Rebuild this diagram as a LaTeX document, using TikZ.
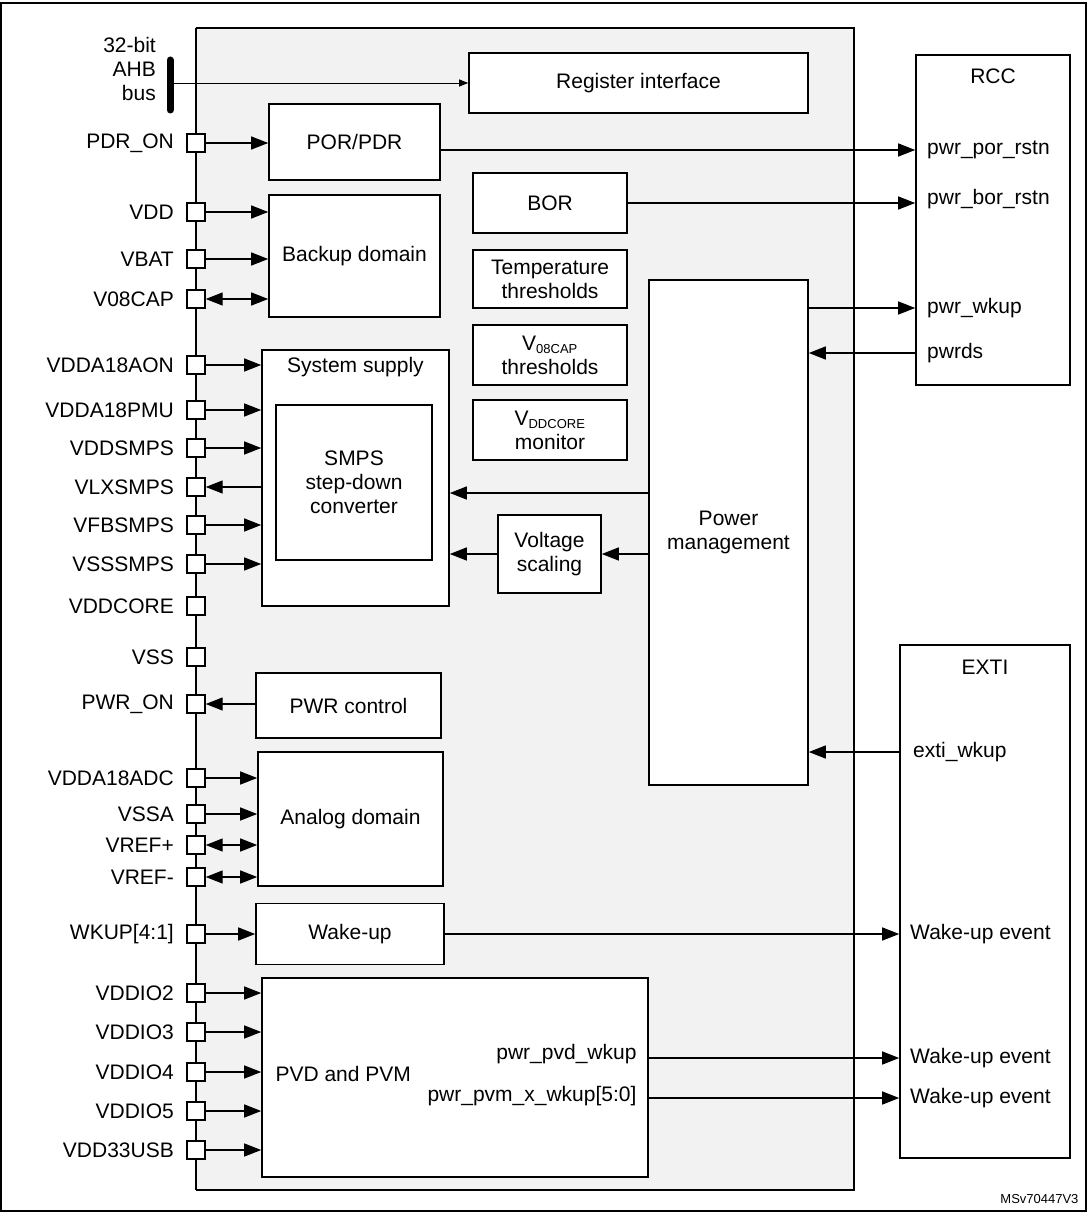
\documentclass[tikz,border=0pt]{standalone}
\usepackage{fontspec}
\setmainfont{Liberation Sans}
\usetikzlibrary{arrows.meta}
\begin{document}
\begin{tikzpicture}[x=1pt,y=-1pt,
  font=\fontsize{21}{24}\selectfont,
  blk/.style={draw,line width=1.6pt,fill=white},
  pin/.style={draw,line width=1.4pt,fill=white,minimum size=18pt,inner sep=0pt},
  lab/.style={anchor=east,inner sep=0pt},
  arr/.style={line width=1.3pt,-{Triangle[length=17pt,width=13pt]}},
  darr/.style={line width=1.3pt,{Triangle[length=17pt,width=13pt]}-{Triangle[length=17pt,width=13pt]}}]
\useasboundingbox (0,0) rectangle (1087,1212);
\draw[line width=2pt] (1,3) rectangle (1086,1211);
\fill[black!5] (196,28) rectangle (854,1190);
\draw[line width=1.6pt] (196,28) -- (854,28) -- (854,1190) -- (196,1190);
\draw[line width=1.6pt] (196,28) -- (196,1190);
% blocks
\node[blk,minimum width=339pt,minimum height=60pt] (reg) at (638.5,83) {Register interface};
\node[blk,minimum width=171pt,minimum height=76pt] (por) at (354.5,142) {POR/PDR};
\node[blk,minimum width=171pt,minimum height=122pt] (bak) at (354.5,256) {Backup domain};
\node[blk,minimum width=154pt,minimum height=60pt] (bor) at (550,203) {BOR};
\node[blk,minimum width=154pt,minimum height=58pt,align=center] (tmp) at (550,279) {Temperature\\thresholds};
\node[blk,minimum width=154pt,minimum height=60pt,align=center] (v08) at (550,355) {V\textsubscript{\fontsize{13}{14}\selectfont 08CAP}\\thresholds};
\node[blk,minimum width=154pt,minimum height=60pt,align=center] (vdc) at (550,430) {V\textsubscript{\fontsize{13}{14}\selectfont DDCORE}\\monitor};
\node[blk,minimum width=159pt,minimum height=505pt,align=center] (pm) at (728.5,532.5) {Power\\management};
\node[blk,minimum width=187pt,minimum height=256pt] (sys) at (355.5,478) {};
\node[anchor=north] at (355.5,354) {System supply};
\node[blk,minimum width=156pt,minimum height=155pt,align=center] (smps) at (354,482.5) {SMPS\\step-down\\converter};
\node[blk,minimum width=103pt,minimum height=78pt,align=center] (vs) at (549.5,554) {Voltage\\scaling};
\node[blk,minimum width=185pt,minimum height=65pt] (pwc) at (348.5,705.5) {PWR control};
\node[blk,minimum width=185pt,minimum height=134pt] (ana) at (350.5,819) {Analog domain};
\node[blk,minimum width=188pt,minimum height=61pt] (wk) at (350,934) {Wake-up};
\node[blk,minimum width=386pt,minimum height=199pt] (pvd) at (455,1077.5) {};
\node[anchor=west] at (272,1074) {PVD and PVM};
\node[anchor=east] at (640,1054) {pwr\_pvd\_wkup};
\node[anchor=east] at (640,1096) {pwr\_pvm\_x\_wkup[5:0]};
% RCC / EXTI
\node[blk,minimum width=154pt,minimum height=330pt] (rcc) at (993,220) {};
\node at (993,76) {RCC};
\node[blk,minimum width=170pt,minimum height=513pt] (exti) at (985,901.5) {};
\node at (985,667) {EXTI};
\foreach \t/\y in {pwr\_por\_rstn/150,pwr\_bor\_rstn/199,pwr\_wkup/308,pwrds/353}
  \node[anchor=west,inner sep=0pt] at (927,\y) {\t};
\node[anchor=west,inner sep=0pt] at (913,752) {exti\_wkup};
\foreach \y in {934,1058,1098} \node[anchor=west,inner sep=0pt] at (910,\y) {Wake-up event};
% bus
\node[align=right,anchor=east,inner sep=0pt] at (156,69) {32-bit\\AHB\\bus};
\draw[line width=7pt,line cap=round] (170,60) -- (170,110);
\coordinate (busc) at (170,83);
\draw[line width=0.9pt,-{Triangle[length=9pt,width=7pt]}] (busc) -- (reg.west);
% pins
\foreach \n/\t/\y in {p1/PDR\_ON/143,p2/VDD/212,p3/VBAT/259,p4/V08CAP/299,p5/VDDA18AON/365,p6/VDDA18PMU/410,p7/VDDSMPS/448,p8/VLXSMPS/487,p9/VFBSMPS/525,p10/VSSSMPS/564,p11/VDDCORE/606,p12/VSS/657,p13/PWR\_ON/704,p14/VDDA18ADC/778,p15/VSSA/814,p16/VREF+/845,p17/VREF-/877,p18/WKUP[4:1]/934,p19/VDDIO2/993,p20/VDDIO3/1032,p21/VDDIO4/1072,p22/VDDIO5/1111,p23/VDD33USB/1150}
{ \node[pin] (\n) at (196,\y) {};
  \node[lab] at (174,\y) {\t}; }
\draw[arr] (p1.east) -- (p1.east -| por.west);
\draw[arr] (p2.east) -- (p2.east -| bak.west);
\draw[arr] (p3.east) -- (p3.east -| bak.west);
\draw[darr] (p4.east) -- (p4.east -| bak.west);
\foreach \p in {p5,p6,p7,p9,p10} \draw[arr] (\p.east) -- (\p.east -| sys.west);
\draw[arr] (p8.east -| sys.west) -- (p8.east);
\draw[arr] (p13.east -| pwc.west) -- (p13.east);
\draw[arr] (p14.east) -- (p14.east -| ana.west);
\draw[arr] (p15.east) -- (p15.east -| ana.west);
\draw[darr] (p16.east) -- (p16.east -| ana.west);
\draw[darr] (p17.east) -- (p17.east -| ana.west);
\draw[arr] (p18.east) -- (p18.east -| wk.west);
\foreach \p in {p19,p20,p21,p22,p23} \draw[arr] (\p.east) -- (\p.east -| pvd.west);
% internal
\coordinate (a1) at (440,150); \draw[arr] (a1) -- (a1 -| rcc.west);
\draw[arr] (bor.east) -- (bor.east -| rcc.west);
\coordinate (a3) at (808,308); \draw[arr] (a3) -- (a3 -| rcc.west);
\coordinate (a4) at (916,353); \draw[arr] (a4) -- (a4 -| pm.east);
\coordinate (a5) at (649,493); \draw[arr] (a5) -- (a5 -| sys.east);
\draw[arr] (vs.east -| pm.west) -- (vs.east);
\draw[arr] (vs.west) -- (vs.west -| sys.east);
\coordinate (a6) at (900,752); \draw[arr] (a6) -- (a6 -| pm.east);
\draw[arr] (wk.east) -- (wk.east -| exti.west);
\coordinate (a7) at (648,1058); \draw[arr] (a7) -- (a7 -| exti.west);
\coordinate (a8) at (648,1098); \draw[arr] (a8) -- (a8 -| exti.west);
\node[anchor=east,font=\fontsize{13}{15}\selectfont] at (1082,1199) {MSv70447V3};
\end{tikzpicture}
\end{document}
